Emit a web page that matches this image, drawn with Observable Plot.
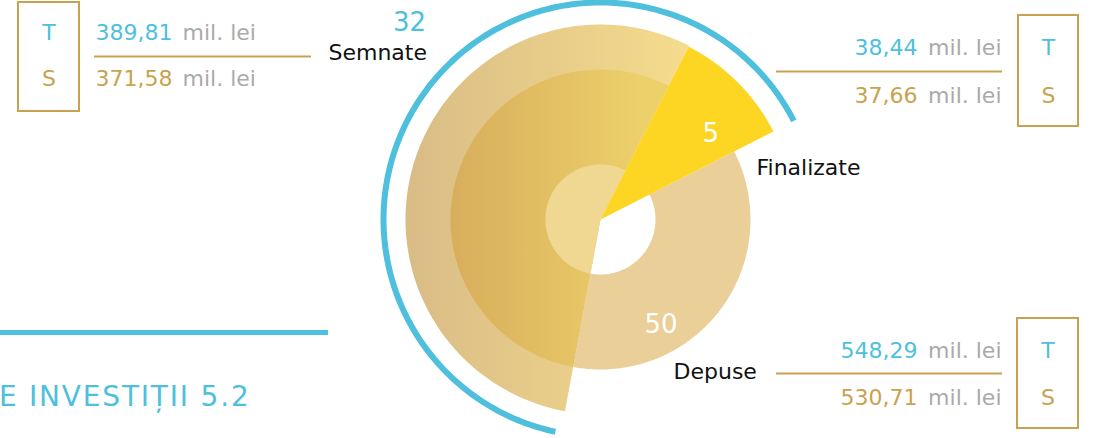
<!DOCTYPE html>
<html>
<head>
<meta charset="utf-8">
<script src="https://cdn.jsdelivr.net/npm/d3@7"></script>
<script src="https://cdn.jsdelivr.net/npm/@observablehq/plot@0.6"></script>
<style>
  html, body { margin: 0; padding: 0; background: #fff; }
  #chart { width: 1093px; height: 438px; overflow: hidden; }
  svg { font-family: "DejaVu Sans", sans-serif; }
</style>
</head>
<body>
<div id="chart"></div>
<script>
// ---- data ----
const categories = ["Semnate", "Finalizate", "Depuse"];
const counts = [32, 5, 50];
const valuesT = [389.81, 38.44, 548.29];
const valuesS = [371.58, 37.66, 530.71];
const rowLabels = ["T", "S"];
const unitLabel = "mil. lei";
const titleText = "E INVESTIȚII 5.2";

// ---- layout / styles ----
const W = 1093, H = 438;
const C = {x: 600, y: 219};
const BLUE = "#4ebfdc", GOLD = "#c9a24f", GRAY = "#aaaaaa";
const fmt = v => v.toFixed(2).replace(".", ",");

// sectors: angles in degrees clockwise from north
const geom = {
  Semnate:    {a0: 190.5, a1: 387, r0: 0,  r1: 195},
  SemnateMid: {a0: 190.5, a1: 387, r0: 55, r1: 150},
  Depuse:     {a0: 63,    a1: 190.5, r0: 55, r1: 150},
  Finalizate: {a0: 27,    a1: 63,  r0: 0,  r1: 194},
  arc:        {a0: 192,   a1: 423, r: 217}
};

function pt(r, a) {
  const t = a * Math.PI / 180;
  return {x: C.x + r * Math.sin(t), y: C.y - r * Math.cos(t)};
}
function sector(g, id) {
  const pts = [];
  const n = 120;
  for (let i = 0; i <= n; i++) pts.push({...pt(g.r1, g.a0 + (g.a1 - g.a0) * i / n), id});
  if (g.r0 === 0) pts.push({...pt(0, 0), id});
  else for (let i = n; i >= 0; i--) pts.push({...pt(g.r0, g.a0 + (g.a1 - g.a0) * i / n), id});
  return pts;
}
function arc(g) {
  const pts = [];
  const n = 200;
  for (let i = 0; i <= n; i++) pts.push(pt(g.r, g.a0 + (g.a1 - g.a0) * i / n));
  return pts;
}

// panel layout (per category)
const panels = [
  {cat: "Semnate", side: "left",  boxX1: 18,   boxX2: 79,   boxY1: 2,   boxY2: 111, rowT: 32,  rowS: 78,  lineY: 56,  lineX1: 94,  lineX2: 311,
   labelX: 328, labelY: 52, countX: 409, countY: 22},
  {cat: "Finalizate", side: "right", boxX1: 1018, boxX2: 1078, boxY1: 15,  boxY2: 126, rowT: 47,  rowS: 95,  lineY: 71,  lineX1: 776, lineX2: 1002,
   labelX: 756, labelY: 167, inner: {a: 52, r: 140}},
  {cat: "Depuse", side: "right", boxX1: 1017, boxX2: 1078, boxY1: 318, boxY2: 428, rowT: 350, rowS: 397, lineY: 373, lineX1: 776, lineX2: 1002,
   labelX: 673, labelY: 371, inner: {a: 150, r: 121}}
];

const rows = [];
panels.forEach(p => {
  const i = categories.indexOf(p.cat);
  [[rowLabels[0], valuesT[i], BLUE, p.rowT], [rowLabels[1], valuesS[i], GOLD, p.rowS]].forEach(([lab, v, col, y]) => {
    rows.push({side: p.side, letter: lab, letterX: (p.boxX1 + p.boxX2) / 2, y, col, num: fmt(v)});
  });
});
const leftRows = rows.filter(r => r.side === "left");
const rightRows = rows.filter(r => r.side === "right");

const countLabels = [];
panels.forEach(p => {
  const i = categories.indexOf(p.cat);
  if (p.inner) {
    const q = pt(p.inner.r, p.inner.a);
    countLabels.push({x: q.x, y: q.y, text: String(counts[i]), fill: "white"});
  } else {
    countLabels.push({x: p.countX, y: p.countY, text: String(counts[i]), fill: BLUE});
  }
});

const FS = 22;
const plot = Plot.plot({
  width: W, height: H, margin: 0,
  x: {domain: [0, W], range: [0, W], axis: null},
  y: {domain: [0, H], range: [0, H], axis: null},
  marks: [
    Plot.line(sector(geom.Semnate, "s"), {x: "x", y: "y", fill: "url(#gradOuter)", stroke: "none", curve: "linear-closed"}),
    Plot.line(sector(geom.SemnateMid, "sm"), {x: "x", y: "y", fill: "url(#gradMid)", stroke: "none", curve: "linear-closed"}),
    Plot.line(sector({...geom.Semnate, r1: 55}, "si"), {x: "x", y: "y", fill: "#f0d893", stroke: "none", curve: "linear-closed"}),
    Plot.line(sector(geom.Depuse, "d"), {x: "x", y: "y", fill: "#eacf99", stroke: "none", curve: "linear-closed"}),
    Plot.line(sector(geom.Finalizate, "f"), {x: "x", y: "y", fill: "#fdd523", stroke: "none", curve: "linear-closed"}),
    Plot.line(arc(geom.arc), {x: "x", y: "y", stroke: BLUE, strokeWidth: 6, strokeLinecap: "butt"}),
    // panels
    Plot.rect(panels, {x1: "boxX1", x2: "boxX2", y1: "boxY1", y2: "boxY2", fill: "none", stroke: GOLD, strokeWidth: 2}),
    Plot.ruleY(panels, {y: "lineY", x1: "lineX1", x2: "lineX2", stroke: GOLD, strokeWidth: 2}),
    Plot.text(rows, {x: "letterX", y: "y", text: "letter", fill: "col", fontSize: FS}),
    Plot.text(leftRows, {x: () => 95, y: "y", text: "num", fill: "col", fontSize: FS, textAnchor: "start"}),
    Plot.text(leftRows, {x: () => 182, y: "y", text: () => unitLabel, fill: GRAY, fontSize: FS, textAnchor: "start"}),
    Plot.text(rightRows, {x: () => 917, y: "y", text: "num", fill: "col", fontSize: FS, textAnchor: "end"}),
    Plot.text(rightRows, {x: () => 1001, y: "y", text: () => unitLabel, fill: GRAY, fontSize: FS, textAnchor: "end"}),
    Plot.text(panels, {x: "labelX", y: "labelY", text: "cat", fill: "#111", fontSize: FS, textAnchor: "start"}),
    Plot.text(countLabels, {x: "x", y: "y", text: "text", fill: "fill", fontSize: 26}),
    // bottom-left title
    Plot.ruleY([332], {x1: 0, x2: 328, stroke: BLUE, strokeWidth: 5}),
    Plot.text([titleText], {x: 250, y: 397, text: d => d, fill: BLUE, fontSize: 28, textAnchor: "end"})
  ]
});

// gradients
const svg = d3.select(plot);
const defs = svg.insert("defs", ":first-child");
const gO = defs.append("linearGradient").attr("id", "gradOuter").attr("gradientUnits", "userSpaceOnUse")
  .attr("x1", 405).attr("x2", 700).attr("y1", 0).attr("y2", 0);
gO.append("stop").attr("offset", 0).attr("stop-color", "#d9bc86");
gO.append("stop").attr("offset", 1).attr("stop-color", "#f6dd8d");
const gM = defs.append("linearGradient").attr("id", "gradMid").attr("gradientUnits", "userSpaceOnUse")
  .attr("x1", 452).attr("x2", 640).attr("y1", 0).attr("y2", 0);
gM.append("stop").attr("offset", 0).attr("stop-color", "#d8ae5c");
gM.append("stop").attr("offset", 1).attr("stop-color", "#ecd06a");
// title letter spacing
svg.selectAll("text").filter(function() { return this.textContent === titleText; }).attr("letter-spacing", "1.8px");

document.getElementById("chart").appendChild(plot);
</script>
</body>
</html>
